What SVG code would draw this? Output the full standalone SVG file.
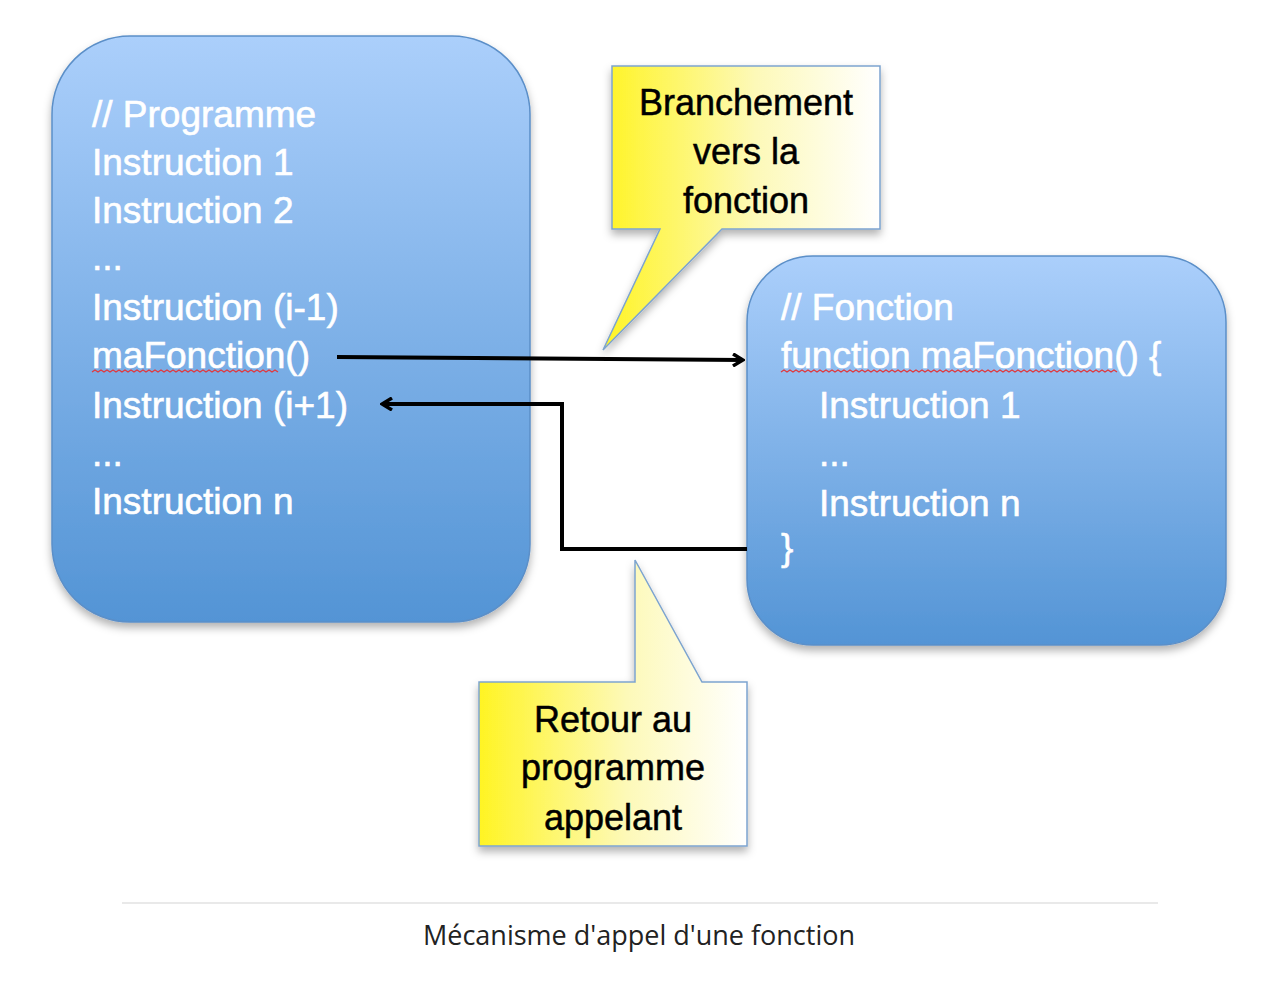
<svg xmlns="http://www.w3.org/2000/svg" width="1272" height="988" viewBox="0 0 1272 988">
<defs>
<linearGradient id="blue" x1="0" y1="0" x2="0" y2="1">
<stop offset="0" stop-color="#abcffb"/>
<stop offset="1" stop-color="#5394d5"/>
</linearGradient>
<linearGradient id="yellow" x1="0" y1="0" x2="1" y2="0">
<stop offset="0" stop-color="#fff423"/>
<stop offset="0.55" stop-color="#fdf9b8"/>
<stop offset="1" stop-color="#ffffff"/>
</linearGradient>
<filter id="sh" x="-10%" y="-10%" width="120%" height="125%">
<feDropShadow dx="0" dy="5" stdDeviation="4" flood-color="#000" flood-opacity="0.3"/>
</filter>
<marker id="chev" viewBox="0 0 14 14" refX="12" refY="7" markerWidth="14" markerHeight="14" markerUnits="userSpaceOnUse" orient="auto">
<path d="M2,1 L12,7 L2,13" fill="none" stroke="#000" stroke-width="3.5"/>
</marker>
<style>
.box{fill:url(#blue);stroke:#5b8fc8;stroke-width:1.5}
.call{fill:url(#yellow);stroke:#7da4cf;stroke-width:1.5}
.w{font-family:"Liberation Sans",Arial,sans-serif;font-size:37px;fill:#fff;stroke:#fff;stroke-width:0.6}
.b{font-family:"Liberation Sans",Arial,sans-serif;font-size:36px;fill:#000;stroke:#000;stroke-width:0.5;text-anchor:middle}
.cap{font-family:"Open Sans","Noto Sans",sans-serif;font-size:27px;fill:#222;text-anchor:middle}
.sq{fill:none;stroke:#e0393e;stroke-width:1.3}
.con{fill:none;stroke:#000;stroke-width:4}
</style>
</defs>
<rect width="1272" height="988" fill="#fff"/>
<g id="programme">
<rect class="box" x="52" y="36" width="478" height="586" rx="78" filter="url(#sh)"/>
<text class="w" x="92" y="127">// Programme</text>
<text class="w" x="92" y="175">Instruction 1</text>
<text class="w" x="92" y="223">Instruction 2</text>
<text class="w" x="92" y="270">...</text>
<text class="w" x="92" y="320">Instruction (i-1)</text>
<text class="w" x="92" y="368">maFonction()</text>
<path class="sq" d="M92,372 l3,-2 l3,2 l3,-2 l3,2 l3,-2 l3,2 l3,-2 l3,2 l3,-2 l3,2 l3,-2 l3,2 l3,-2 l3,2 l3,-2 l3,2 l3,-2 l3,2 l3,-2 l3,2 l3,-2 l3,2 l3,-2 l3,2 l3,-2 l3,2 l3,-2 l3,2 l3,-2 l3,2 l3,-2 l3,2 l3,-2 l3,2 l3,-2 l3,2 l3,-2 l3,2 l3,-2 l3,2 l3,-2 l3,2 l3,-2 l3,2 l3,-2 l3,2 l3,-2 l3,2 l3,-2 l3,2 l3,-2 l3,2 l3,-2 l3,2 l3,-2 l3,2 l3,-2 l3,2 l3,-2 l3,2 l3,-2 l3,2"/>
<text class="w" x="92" y="418">Instruction (i+1)</text>
<text class="w" x="92" y="466">...</text>
<text class="w" x="92" y="514">Instruction n</text>
</g>
<g id="fonction">
<rect class="box" x="747" y="256" width="479" height="389" rx="66" filter="url(#sh)"/>
<text class="w" x="781" y="320">// Fonction</text>
<text class="w" x="781" y="368">function maFonction() {</text>
<path class="sq" d="M781,372 l3,-2 l3,2 l3,-2 l3,2 l3,-2 l3,2 l3,-2 l3,2 l3,-2 l3,2 l3,-2 l3,2 l3,-2 l3,2 l3,-2 l3,2 l3,-2 l3,2 l3,-2 l3,2 l3,-2 l3,2 l3,-2 l3,2 l3,-2 l3,2 l3,-2 l3,2 l3,-2 l3,2 l3,-2 l3,2 l3,-2 l3,2 l3,-2 l3,2 l3,-2 l3,2 l3,-2 l3,2 l3,-2 l3,2 l3,-2 l3,2 l3,-2 l3,2 l3,-2 l3,2 l3,-2 l3,2 l3,-2 l3,2 l3,-2 l3,2 l3,-2 l3,2 l3,-2 l3,2 l3,-2 l3,2 l3,-2 l3,2 l3,-2 l3,2 l3,-2 l3,2 l3,-2 l3,2 l3,-2 l3,2 l3,-2 l3,2 l3,-2 l3,2 l3,-2 l3,2 l3,-2 l3,2 l3,-2 l3,2 l3,-2 l3,2 l3,-2 l3,2 l3,-2 l3,2 l3,-2 l3,2 l3,-2 l3,2 l3,-2 l3,2 l3,-2 l3,2 l3,-2 l3,2 l3,-2 l3,2 l3,-2 l3,2 l3,-2 l3,2 l3,-2 l3,2 l3,-2 l3,2 l3,-2 l3,2 l3,-2 l3,2 l3,-2 l3,2"/>
<text class="w" x="819" y="418">Instruction 1</text>
<text class="w" x="819" y="466">...</text>
<text class="w" x="819" y="516">Instruction n</text>
<text class="w" x="781" y="560">}</text>
</g>
<g id="connectors">
<path class="con" d="M337,357 L743,360" marker-end="url(#chev)"/>
<path class="con" d="M747,549 L562,549 L562,404 L382,404" marker-end="url(#chev)"/>
</g>
<g id="callout-branchement">
<path class="call" d="M612,66 H880 V229 H722 L603,350 L660,229 H612 Z" filter="url(#sh)"/>
<text class="b" x="746" y="115">Branchement</text>
<text class="b" x="746" y="164">vers la</text>
<text class="b" x="746" y="213">fonction</text>
</g>
<g id="callout-retour">
<path class="call" d="M479,682 H635 V560 L702,682 H747 V846 H479 Z" filter="url(#sh)"/>
<text class="b" x="613" y="732">Retour au</text>
<text class="b" x="613" y="780">programme</text>
<text class="b" x="613" y="830">appelant</text>
</g>
<g id="caption">
<line x1="122" y1="903" x2="1158" y2="903" stroke="#e2e2e2" stroke-width="1.5"/>
<text class="cap" x="639" y="945">Mécanisme d'appel d'une fonction</text>
</g>
</svg>
